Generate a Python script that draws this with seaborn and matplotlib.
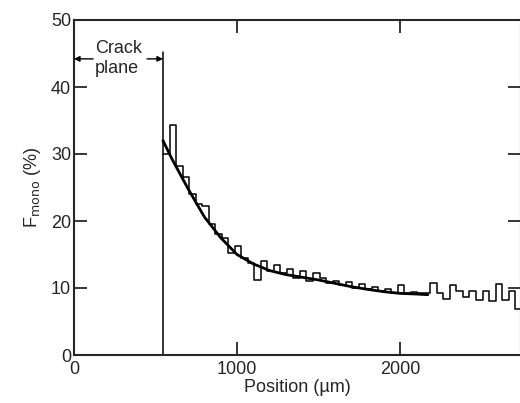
import numpy as np
import pandas as pd
import matplotlib
matplotlib.use("Agg")
import matplotlib.pyplot as plt
import seaborn as sns

# histogram bins (left edges, um) and fraction monoclinic (%)
bin_left = [546, 586, 626, 666, 706, 746, 786, 826, 866, 906, 946, 986, 1026, 1066,
            1106, 1146, 1186, 1226, 1266, 1306, 1346, 1386, 1426, 1466, 1506, 1546,
            1586, 1626, 1666, 1706, 1746, 1786, 1826, 1866, 1906, 1946, 1986, 2026,
            2066, 2106, 2146, 2186, 2226, 2266, 2306, 2346, 2386, 2426, 2466, 2506,
            2546, 2586, 2626, 2666, 2706]
bin_width = 40
f_mono = [30.0, 34.3, 28.2, 26.5, 24.0, 22.5, 22.2, 19.5, 18.0, 17.5, 15.2, 16.2, 14.5, 13.8,
          11.2, 14.0, 12.5, 13.5, 12.2, 12.8, 11.5, 12.5, 11.0, 12.3, 11.5, 10.8,
          11.0, 10.5, 10.9, 10.0, 10.6, 9.8, 10.2, 9.5, 9.8, 9.3, 10.5, 9.2,
          9.4, 9.2, 9.3, 10.8, 9.2, 8.4, 10.4, 9.6, 8.6, 9.6, 8.2, 9.5,
          8.0, 10.6, 8.2, 9.5, 6.8]

# smooth fitted curve
fit_x = [546, 600, 700, 800, 900, 1000, 1100, 1200, 1300, 1400, 1500, 1600, 1700,
         1800, 1900, 2000, 2100, 2170]
fit_y = [32.0, 29.3, 24.8, 20.6, 17.5, 15.0, 13.6, 12.6, 12.0, 11.6, 11.2, 10.7, 10.2,
         9.8, 9.45, 9.2, 9.1, 9.0]

crack_x = 546

sns.set_style("ticks")
plt.rcParams["font.family"] = ["Liberation Sans", "DejaVu Sans"]

fig = plt.figure(figsize=(5.2, 4.03), dpi=100)
ax = fig.add_axes([74 / 520, 1 - 355 / 403, 447 / 520, 335 / 403])

edges = bin_left + [bin_left[-1] + bin_width]
centers = [b + bin_width / 2 for b in bin_left]
hist_df = pd.DataFrame({"pos": centers, "f": f_mono})
sns.histplot(data=hist_df, x="pos", weights="f", bins=edges, element="step",
             fill=False, color="black", linewidth=1.1, ax=ax)

fit_df = pd.DataFrame({"pos": fit_x, "f": fit_y})
sns.lineplot(data=fit_df, x="pos", y="f", color="black", linewidth=2.0, ax=ax)

ax.plot([crack_x, crack_x], [0, 45.2], color="black", linewidth=1.1)

# crack plane annotation
ax.text(130, 44.2, "Crack\nplane", ha="left", va="center", fontsize=13, linespacing=1.25)
arrow = dict(arrowstyle="-|>", color="black", lw=1.0, mutation_scale=8, shrinkA=0, shrinkB=0)
ax.annotate("", xy=(0, 44.2), xytext=(117, 44.2), arrowprops=arrow)
ax.annotate("", xy=(crack_x, 44.2), xytext=(448, 44.2), arrowprops=arrow)

ax.set_xlim(0, 2742)
ax.set_ylim(0, 50)
ax.set_xticks([0, 1000, 2000])
ax.set_yticks([0, 10, 20, 30, 40, 50])
ax.tick_params(direction="in", length=9.5, width=1.3, labelsize=13, pad=2,
               top=True, right=True)
ax.tick_params(axis="x", pad=4)
for s in ax.spines.values():
    s.set_linewidth(1.5)

ax.set_xlabel("Position (\u00b5m)", fontsize=13, labelpad=1)
ax.set_ylabel("F$_{\\rm mono}$ (%)", fontsize=13, labelpad=6)

fig.savefig("out.png", dpi=100)
